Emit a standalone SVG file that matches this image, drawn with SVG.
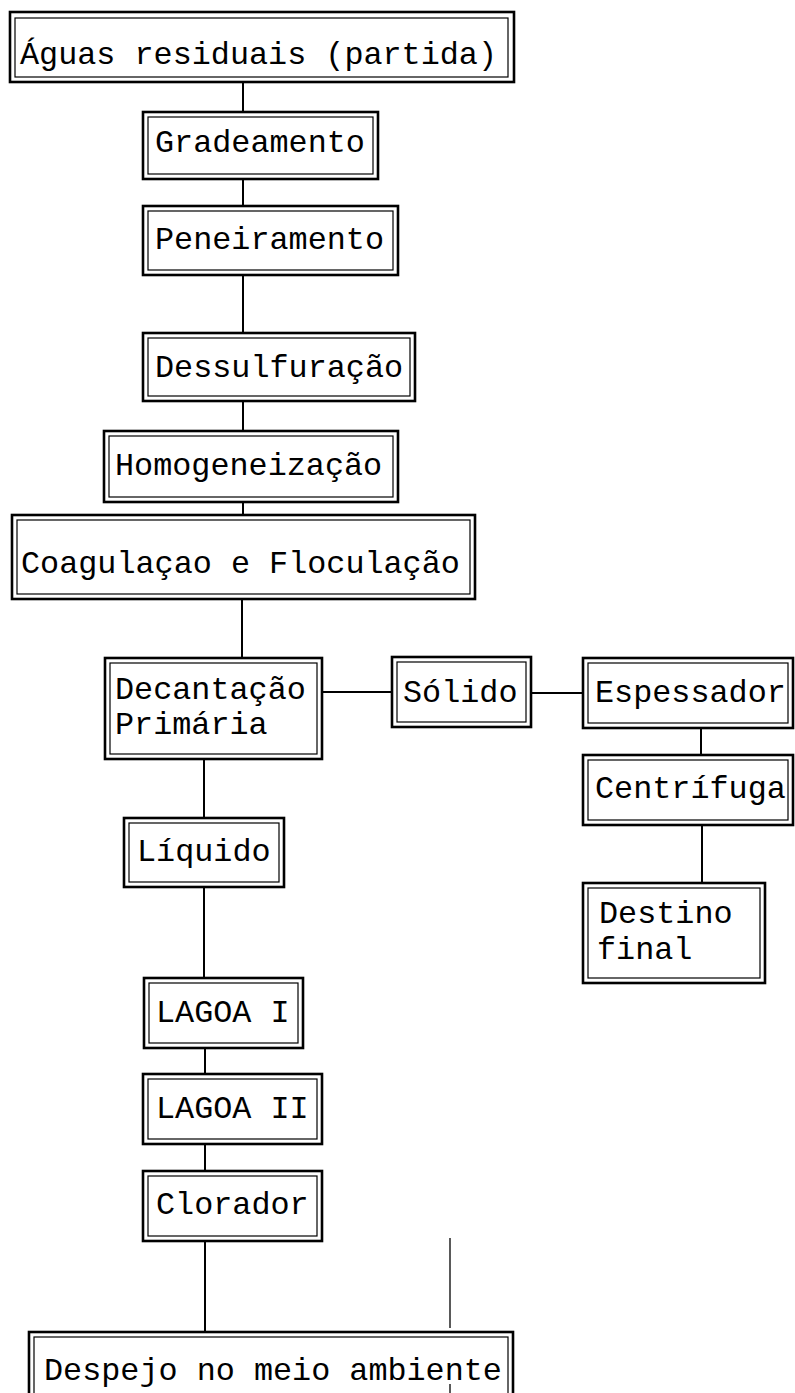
<svg xmlns="http://www.w3.org/2000/svg" width="795" height="1393" viewBox="0 0 795 1393">
<style>
.o{fill:none;stroke:#000;stroke-width:2.6}
.i{fill:none;stroke:#000;stroke-width:1.2}
.t{font-family:"Liberation Mono","Courier New",monospace;font-size:31.8px;fill:#000}
.c{fill:none;stroke:#000;stroke-width:2}
</style>
<rect width="795" height="1393" fill="#fff"/>
<g id="connectors">
<line class="c" x1="243" y1="82" x2="243" y2="112"/>
<line class="c" x1="243" y1="179" x2="243" y2="206"/>
<line class="c" x1="243" y1="275" x2="243" y2="333"/>
<line class="c" x1="243" y1="401" x2="243" y2="431"/>
<line class="c" x1="243" y1="502" x2="243" y2="515"/>
<line class="c" x1="242" y1="599" x2="242" y2="658"/>
<line class="c" x1="322" y1="692" x2="392" y2="692"/>
<line class="c" x1="531" y1="693" x2="583" y2="693"/>
<line class="c" x1="701" y1="728" x2="701" y2="755"/>
<line class="c" x1="702" y1="825" x2="702" y2="883"/>
<line class="c" x1="204" y1="759" x2="204" y2="818"/>
<line class="c" x1="204" y1="887" x2="204" y2="978"/>
<line class="c" x1="205" y1="1048" x2="205" y2="1074"/>
<line class="c" x1="205" y1="1144" x2="205" y2="1171"/>
<line class="c" x1="205" y1="1241" x2="205" y2="1332"/>
<line class="c" style="stroke-width:1.3" x1="450" y1="1238" x2="450" y2="1328"/>
<line class="c" style="stroke-width:1.3" x1="450" y1="1384" x2="450" y2="1393"/>
</g>
<g id="aguas">
<rect class="o" x="10" y="12" width="504" height="70"/>
<rect class="i" x="15" y="18" width="493" height="59"/>
<text class="t" x="20" y="64">Águas residuais (partida)</text>
</g>
<g id="gradeamento">
<rect class="o" x="143" y="112" width="235" height="67"/>
<rect class="i" x="148" y="117" width="225" height="57"/>
<text class="t" x="155" y="152">Gradeamento</text>
</g>
<g id="peneiramento">
<rect class="o" x="143" y="206" width="255" height="69"/>
<rect class="i" x="148" y="211" width="245" height="59"/>
<text class="t" x="155" y="249">Peneiramento</text>
</g>
<g id="dessulfuracao">
<rect class="o" x="143" y="333" width="272" height="68"/>
<rect class="i" x="148" y="338" width="262" height="58"/>
<text class="t" x="155" y="377">Dessulfuração</text>
</g>
<g id="homogeneizacao">
<rect class="o" x="104" y="431" width="294" height="71"/>
<rect class="i" x="109" y="436" width="284" height="61"/>
<text class="t" x="115" y="475">Homogeneização</text>
</g>
<g id="coagulacao">
<rect class="o" x="12" y="515" width="463" height="84"/>
<rect class="i" x="17" y="520" width="453" height="74"/>
<text class="t" x="21" y="573">Coagulaçao e Floculação</text>
</g>
<g id="decantacao">
<rect class="o" x="105" y="658" width="217" height="101"/>
<rect class="i" x="110" y="663" width="207" height="91"/>
<text class="t" x="115" y="699">Decantação</text>
<text class="t" x="115" y="734">Primária</text>
</g>
<g id="solido">
<rect class="o" x="392" y="657" width="139" height="70"/>
<rect class="i" x="397" y="662" width="129" height="60"/>
<text class="t" x="403" y="702">Sólido</text>
</g>
<g id="espessador">
<rect class="o" x="583" y="658" width="210" height="70"/>
<rect class="i" x="588" y="663" width="200" height="60"/>
<text class="t" x="595" y="702">Espessador</text>
</g>
<g id="centrifuga">
<rect class="o" x="583" y="755" width="210" height="70"/>
<rect class="i" x="588" y="760" width="200" height="60"/>
<text class="t" x="595" y="798">Centrífuga</text>
</g>
<g id="destino">
<rect class="o" x="583" y="883" width="182" height="100"/>
<rect class="i" x="588" y="888" width="172" height="90"/>
<text class="t" x="599" y="923">Destino</text>
<text class="t" x="597" y="959">final</text>
</g>
<g id="liquido">
<rect class="o" x="124" y="818" width="160" height="69"/>
<rect class="i" x="129" y="823" width="150" height="59"/>
<text class="t" x="137" y="861">Líquido</text>
</g>
<g id="lagoa1">
<rect class="o" x="144" y="978" width="159" height="70"/>
<rect class="i" x="149" y="983" width="149" height="60"/>
<text class="t" x="156" y="1022">LAGOA I</text>
</g>
<g id="lagoa2">
<rect class="o" x="143" y="1074" width="179" height="70"/>
<rect class="i" x="148" y="1079" width="169" height="60"/>
<text class="t" x="156" y="1118">LAGOA II</text>
</g>
<g id="clorador">
<rect class="o" x="143" y="1171" width="179" height="70"/>
<rect class="i" x="148" y="1176" width="169" height="60"/>
<text class="t" x="156" y="1214">Clorador</text>
</g>
<g id="despejo">
<rect class="o" x="29" y="1332" width="484" height="80"/>
<rect class="i" x="34" y="1337" width="474" height="70"/>
<text class="t" x="44" y="1380">Despejo no meio ambiente</text>
</g>
</svg>
